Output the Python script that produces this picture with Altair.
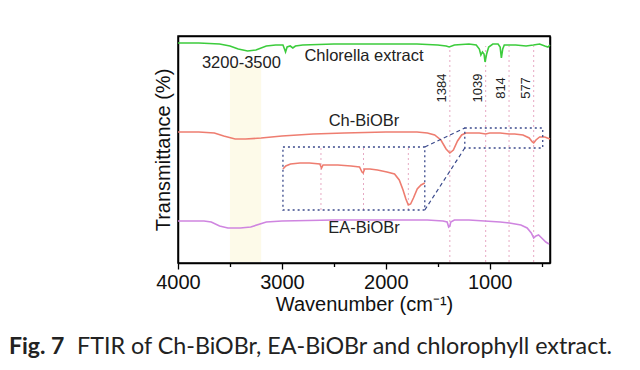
import altair as alt
import pandas as pd

# ---------------- data ----------------
wn_green = [4000, 3800, 3600, 3500, 3420, 3330, 3250, 3150, 3060, 2990, 2975, 2965, 2950, 2920, 2895, 2870, 2800, 2500, 2000, 1700, 1500, 1420, 1390, 1340, 1200, 1130, 1100, 1085, 1070, 1055, 1045, 1030, 1010, 970, 920, 900, 888, 875, 860, 750, 650, 580, 520, 470, 440, 420]
t_green = [219, 219, 218, 216, 213, 211, 212, 216, 217, 217, 213, 210, 215, 216, 214, 216, 217, 218, 218, 218, 217, 216, 215, 217, 218, 217, 213, 207, 210, 208, 200, 208, 215, 218, 218, 215, 204, 213, 217, 217, 216, 217, 218, 216, 215, 217]

wn_red = [4000, 3800, 3650, 3560, 3450, 3350, 3200, 3000, 2700, 2400, 2000, 1700, 1600, 1530, 1470, 1420, 1384, 1350, 1310, 1270, 1230, 1100, 1039, 1000, 900, 814, 760, 680, 620, 590, 577, 555, 520, 470, 420]
t_red = [130, 130, 129, 126, 123, 123, 124, 126, 128, 129, 130, 130, 129, 127, 122, 113, 109, 112, 121, 127, 129, 129, 128, 129, 129, 128, 128, 127, 124, 120, 119, 122, 125, 125, 123]

wn_purple = [4000, 3750, 3680, 3600, 3520, 3400, 3300, 3150, 3000, 2500, 2000, 1600, 1450, 1410, 1395, 1384, 1375, 1340, 1200, 1050, 900, 810, 700, 640, 600, 577, 555, 530, 500, 460, 430]
t_purple = [41, 41, 40, 36, 34, 34, 35, 40, 41, 42, 42, 42, 41, 40, 35, 36, 40, 42, 42, 41, 40, 39, 37, 34, 29, 24, 26, 27, 24, 20, 18]

# magnified Ch-BiOBr region 1240-490 cm-1 (inset)
wn_inset = [1240, 1225, 1200, 1150, 1100, 1045, 1036, 1028, 1000, 950, 880, 835, 822, 816, 808, 780, 740, 690, 650, 625, 605, 590, 577, 565, 550, 530, 510, 490]
t_inset = [93, 96, 98, 99, 99, 98, 94, 97, 97, 97, 96, 95, 90, 89, 93, 93, 92, 90, 88, 82, 72, 63, 57, 58, 64, 73, 77, 79]

peaks = [1384, 1039, 814, 577]
peak_labels = ["1384", "1039", "814", "577"]
series_names = ["Chlorella extract", "Ch-BiOBr", "EA-BiOBr"]
series_colors = ["#3ccc3c", "#ee7d70", "#cf85e0"]

# axis extent, zoom window and inset box placement (main coords)
wn_range = [4000, 420]
t_range = [-1, 226]
zoom_wn = [1240, 490]
zoom_t = [114, 134]
inset_wn = [2990, 1625]
inset_t = [52, 115]

W, H = 372, 227

# ---------------- frames ----------------
def inset_x(w):
    return inset_wn[0] + (w - zoom_wn[0]) * (inset_wn[1] - inset_wn[0]) / (zoom_wn[1] - zoom_wn[0])

rows = []
for name, ws, ts in [(series_names[0], wn_green, t_green), (series_names[1], wn_red, t_red), (series_names[2], wn_purple, t_purple)]:
    for i, (w, t) in enumerate(zip(ws, ts)):
        rows.append({"series": name, "wn": w, "t": t, "o": i})
df_lines = pd.DataFrame(rows)

df_inset = pd.DataFrame({"wn": [inset_x(w) for w in wn_inset], "t": t_inset, "o": list(range(len(wn_inset))), "series": series_names[1]})

xs = alt.Scale(domain=[wn_range[1], wn_range[0]], reverse=True, nice=False, zero=False)
ys = alt.Scale(domain=t_range, nice=False, zero=False)

X = alt.X("wn:Q", scale=xs, axis=alt.Axis(
    values=[4000, 3500, 3000, 2500, 2000, 1500, 1000, 500],
    labelExpr="datum.value % 1000 === 0 ? datum.label : ''",
    tickSize={"condition": {"test": "datum.value % 1000 === 0", "value": 6}, "value": 3.5},
    format="d", grid=False, title="Wavenumber (cm\u207b\u00b9)",
    labelFontSize=20, titleFontSize=20, labelPadding=3, titlePadding=2,
    domainColor="black", tickColor="black", labelColor="#111", titleColor="#111",
    titleFontWeight="normal", domainWidth=1.5, tickWidth=1.3, labelFlush=False))
Y = alt.Y("t:Q", scale=ys, axis=alt.Axis(
    title="Transmittance (%)", ticks=False, labels=False, grid=False,
    titleFontSize=20, titlePadding=5, titleColor="#111", titleFontWeight="normal",
    domainColor="black", domainWidth=1.5))

band = alt.Chart(pd.DataFrame({"wn": [3500], "wn2": [3200], "t": [0], "t2": [198]})).mark_rect(
    color="#fbf3c8", opacity=0.4).encode(x=X, x2="wn2", y=Y, y2="t2")

peak_rules = alt.Chart(pd.DataFrame({"wn": peaks, "t": [0] * 4, "t2": [216] * 4})).mark_rule(
    color="#e7a9c3", strokeDash=[2, 3], strokeWidth=1).encode(x=X, y=Y, y2="t2")

inset_rules = alt.Chart(pd.DataFrame({"wn": [inset_x(w) for w in peaks[1:]], "t": [inset_t[0]] * 3, "t2": [inset_t[1]] * 3})).mark_rule(
    color="#e7a9c3", strokeDash=[2, 3], strokeWidth=1).encode(x=X, y=Y, y2="t2")

lines = alt.Chart(df_lines).mark_line(strokeWidth=1.6).encode(
    x=X, y=Y, order="o:Q",
    color=alt.Color("series:N", scale=alt.Scale(domain=series_names, range=series_colors), legend=None))

inset_line = alt.Chart(df_inset).mark_line(strokeWidth=1.6, color=series_colors[1]).encode(x=X, y=Y, order="o:Q")

boxes = alt.Chart(pd.DataFrame({"wn": [zoom_wn[0], inset_wn[0]], "wn2": [zoom_wn[1], inset_wn[1]],
                                "t": [zoom_t[0], inset_t[0]], "t2": [zoom_t[1], inset_t[1]]})).mark_rect(
    fill=None, fillOpacity=0, stroke="#3b4a8c", strokeWidth=1.3, strokeDash=[2, 3]).encode(x=X, x2="wn2", y=Y, y2="t2")

connectors = alt.Chart(pd.DataFrame({"wn": [inset_wn[1], inset_wn[1]], "t": [inset_t[1], inset_t[0]],
                                     "wn2": [zoom_wn[0], zoom_wn[0]], "t2": [zoom_t[1], zoom_t[0]]})).mark_rule(
    color="#3b4a8c", strokeWidth=1.2, strokeDash=[4, 3]).encode(x=X, y=Y, x2="wn2", y2="t2")

lab_df = pd.DataFrame({"wn": [2210, 2210, 2210, 3390], "t": [206, 141, 34, 199],
                       "txt": ["Chlorella extract", "Ch-BiOBr", "EA-BiOBr", "3200-3500"]})
labels = alt.Chart(lab_df).mark_text(fontSize=16.5, color="#222", font="Liberation Sans").encode(
    x=X, y=Y, text="txt:N")

pk_df = pd.DataFrame({"wn": peaks, "t": [174] * 4, "txt": peak_labels})
pk_labels = alt.Chart(pk_df).mark_text(fontSize=13, color="#222", angle=270, dy=-8,
                                        font="Liberation Sans").encode(x=X, y=Y, text="txt:N")

dummy = pd.DataFrame({"a": [0]})
cap1 = alt.Chart(dummy).mark_text(
    text="Fig. 7", fontSize=23, fontWeight="bold", color="#222", align="left", baseline="middle",
    font="Lato").encode(x=alt.value(-169), y=alt.value(311))
cap2 = alt.Chart(dummy).mark_text(
    text="FTIR of Ch-BiOBr, EA-BiOBr and chlorophyll extract.", fontSize=23.3, color="#222",
    align="left", baseline="middle", font="Lato").encode(x=alt.value(-101), y=alt.value(311))

main = alt.layer(band, peak_rules, inset_rules, lines, inset_line, boxes, connectors,
                 labels, pk_labels, cap1, cap2)

# top and right border drawn as extra axes (domain lines only)
frame = alt.Chart(pd.DataFrame({"wn": [wn_range[0]], "t": [t_range[0]]})).mark_point(opacity=0).encode(
    x=alt.X("wn:Q", scale=xs, axis=alt.Axis(orient="top", labels=False, ticks=False, title=None, grid=False,
                                             domainColor="black", domainWidth=1.5)),
    y=alt.Y("t:Q", scale=ys, axis=alt.Axis(orient="right", labels=False, ticks=False, title=None, grid=False,
                                            domainColor="black", domainWidth=1.5)))

chart = alt.layer(main, frame).resolve_axis(x="independent", y="independent").properties(
    width=W, height=H,
    autosize=alt.AutoSizeParams(type="none"),
    padding={"left": 170, "top": 28, "right": 78, "bottom": 98},
).configure(font="Liberation Sans", view=alt.ViewConfig(stroke="black", strokeWidth=1.5))

chart.save("out.html", embed_options={"renderer": "svg", "actions": False})
